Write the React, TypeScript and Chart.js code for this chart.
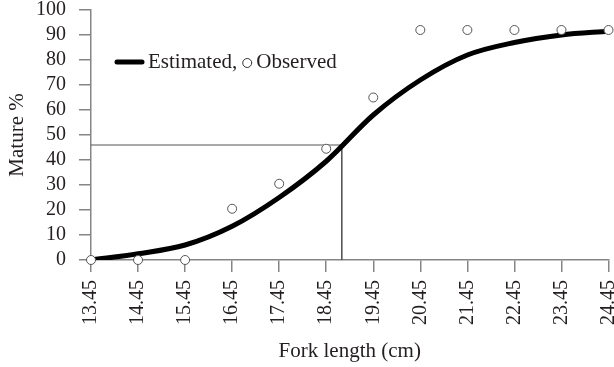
import React, { useEffect, useRef } from "react";
import { Chart, registerables } from "chart.js";

Chart.register(...registerables);

const forkLength = [13.45, 14.45, 15.45, 16.45, 17.45, 18.45, 19.45, 20.45, 21.45, 22.45, 23.45, 24.45];
const observedPct = [0, 0, 0, 20.5, 30.5, 44.5, 65, 92, 92, 92, 92, 92];
const estimatedPct = [0, 2.5, 6, 13.5, 25, 39.5, 58, 72, 82, 87, 90, 91.5];
const l50Length = 18.78;
const l50Pct = 46;
const yTickValues = [0, 10, 20, 30, 40, 50, 60, 70, 80, 90, 100];

const FONT = '"Liberation Serif", "Times New Roman", serif';
const AXIS_GRAY = "#858585";
const TEXT = "#231f20";

const inlineLegend = {
  id: "inlineLegend",
  afterDatasetsDraw(chart: any) {
    const { ctx, chartArea } = chart;
    const x0 = chartArea.left + 26;
    const y0 = chartArea.top + 52;
    ctx.save();
    ctx.strokeStyle = "#000";
    ctx.lineWidth = 5;
    ctx.lineCap = "round";
    ctx.beginPath();
    ctx.moveTo(x0, y0);
    ctx.lineTo(x0 + 25, y0);
    ctx.stroke();
    ctx.font = `21px ${FONT}`;
    ctx.fillStyle = TEXT;
    ctx.textBaseline = "middle";
    ctx.textAlign = "left";
    const t1 = "Estimated,";
    const tx = x0 + 31;
    ctx.fillText(t1, tx, y0);
    const w1 = ctx.measureText(t1).width;
    const cx = tx + w1 + 10;
    ctx.lineWidth = 1;
    ctx.strokeStyle = "#333";
    ctx.beginPath();
    ctx.arc(cx, y0 + 1, 4.5, 0, Math.PI * 2);
    ctx.stroke();
    ctx.fillText("Observed", cx + 9, y0);
    ctx.restore();
  },
};

export default function App() {
  const ref = useRef<HTMLCanvasElement | null>(null);

  useEffect(() => {
    if (!ref.current) return;
    const chart = new Chart(ref.current, {
      type: "line",
      data: {
        datasets: [
          {
            label: "Observed",
            data: forkLength.map((x, i) => ({ x, y: observedPct[i] })),
            showLine: false,
            pointRadius: 4.5,
            pointStyle: "circle",
            pointBorderColor: "#555",
            pointBackgroundColor: "#fff",
            pointBorderWidth: 1,
            order: 0,
            clip: false,
          } as any,
          {
            label: "Estimated",
            data: forkLength.map((x, i) => ({ x, y: estimatedPct[i] })),
            borderColor: "#000",
            borderWidth: 5,
            pointRadius: 0,
            cubicInterpolationMode: "monotone",
            fill: false,
            order: 1,
          },
          {
            label: "L50",
            data: [
              { x: forkLength[0], y: l50Pct },
              { x: l50Length, y: l50Pct },
              { x: l50Length, y: 0 },
            ],
            borderColor: "#555",
            borderWidth: 1,
            pointRadius: 0,
            tension: 0,
            fill: false,
            order: 2,
          },
        ],
      },
      options: {
        animation: false,
        responsive: false,
        devicePixelRatio: 1,
        layout: { padding: { top: 10, right: 4, bottom: 0, left: 0 } },
        plugins: {
          legend: { display: false },
          tooltip: { enabled: false },
        },
        scales: {
          x: {
            type: "linear",
            min: forkLength[0],
            max: forkLength[forkLength.length - 1],
            afterBuildTicks: (scale: any) => {
              scale.ticks = forkLength.map((v) => ({ value: v }));
            },
            afterFit: (scale: any) => {
              scale.height = 107;
              scale.paddingLeft = 0;
              scale.paddingRight = 0;
            },
            ticks: {
              autoSkip: false,
              minRotation: 90,
              maxRotation: 90,
              padding: 8,
              color: TEXT,
              font: { family: FONT, size: 20 },
              callback: (v: any) => Number(v).toFixed(2),
            },
            grid: {
              drawOnChartArea: false,
              drawTicks: true,
              tickLength: 12,
              color: AXIS_GRAY,
              lineWidth: 1.5,
            },
            border: { display: true, color: AXIS_GRAY, width: 1.5 },
            title: {
              display: true,
              text: "Fork length (cm)",
              color: TEXT,
              font: { family: FONT, size: 21 },
              padding: { top: 0, bottom: 3 },
            },
          },
          y: {
            type: "linear",
            min: 0,
            max: 100,
            afterBuildTicks: (scale: any) => {
              scale.ticks = yTickValues.map((v) => ({ value: v }));
            },
            afterFit: (scale: any) => {
              scale.width = 91;
              scale.paddingTop = 0;
              scale.paddingBottom = 0;
            },
            ticks: {
              autoSkip: false,
              padding: 13,
              color: TEXT,
              font: { family: FONT, size: 20 },
            },
            grid: {
              drawOnChartArea: false,
              drawTicks: true,
              tickLength: 12,
              color: AXIS_GRAY,
              lineWidth: 1.5,
            },
            border: { display: true, color: AXIS_GRAY, width: 1.5 },
            title: {
              display: true,
              text: "Mature %",
              color: TEXT,
              font: { family: FONT, size: 21 },
              padding: { top: 5, bottom: 0 },
            },
          },
        },
      },
      plugins: [inlineLegend],
    });
    return () => chart.destroy();
  }, []);

  return (
    <div style={{ position: "fixed", left: 0, top: 0, width: 614, height: 367, background: "#fff" }}>
      <canvas ref={ref} width={614} height={367} style={{ display: "block", width: 614, height: 367 }} />
    </div>
  );
}
